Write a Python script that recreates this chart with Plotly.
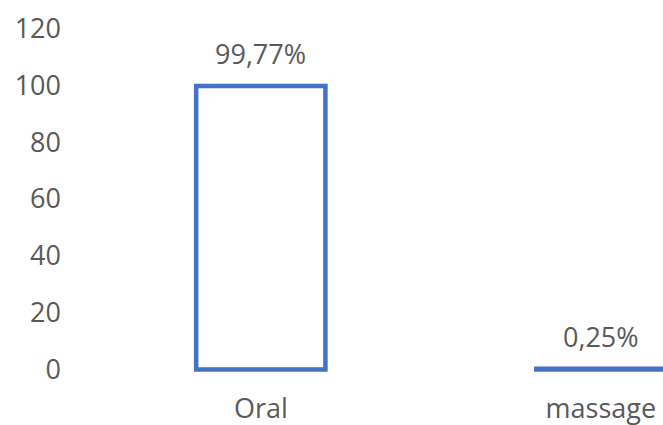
import plotly.graph_objects as go

categories = ["Oral", "massage"]
values = [99.77, 0.25]
value_labels = ["99,77%", "0,25%"]
y_ticks = [0, 20, 40, 60, 80, 100, 120]

blue = "#4472C4"
grey = "#595959"
font_family = "Open Sans, Noto Sans, sans-serif"
font_size = 27

fig = go.Figure(
    go.Bar(
        x=list(range(len(categories))),
        y=values,
        width=0.38,
        marker=dict(color="rgba(255,255,255,0)", line=dict(color=blue, width=4.5)),
        hoverinfo="skip",
    )
)

for i, (v, lab) in enumerate(zip(values, value_labels)):
    fig.add_annotation(
        x=i, y=v, text=lab, showarrow=False,
        yanchor="bottom", yshift=12,
        font=dict(family=font_family, size=font_size, color=grey),
    )

fig.update_layout(
    width=663, height=425,
    margin=dict(l=70, r=0, t=20, b=47),
    paper_bgcolor="white", plot_bgcolor="white",
    showlegend=False,
    font=dict(family=font_family, size=font_size, color=grey),
)
fig.update_xaxes(
    range=[-0.561, 1.1826],
    tickmode="array", tickvals=list(range(len(categories))), ticktext=categories,
    showgrid=False, zeroline=False, showline=False,
    ticklabelstandoff=12,
    tickfont=dict(family=font_family, size=font_size, color=grey),
)
fig.update_yaxes(
    range=[-3, 123],
    tickmode="array", tickvals=y_ticks,
    showgrid=False, zeroline=False, showline=False,
    ticklabelstandoff=8,
    tickfont=dict(family=font_family, size=font_size, color=grey),
)

fig.write_html("out.html")
